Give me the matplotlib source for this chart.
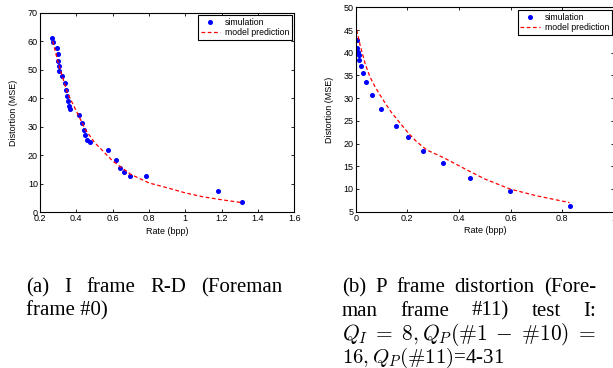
import matplotlib
matplotlib.use('Agg')
import matplotlib.pyplot as plt

# (a) I frame R-D, Foreman frame #0
i_rate_sim = [0.268, 0.272, 0.292, 0.299, 0.301, 0.303, 0.306, 0.323, 0.339, 0.345,
              0.350, 0.354, 0.360, 0.365, 0.417, 0.433, 0.442, 0.448, 0.459, 0.473,
              0.574, 0.618, 0.642, 0.664, 0.695, 0.783, 1.182, 1.312]
i_dist_sim = [61.2, 59.7, 57.5, 55.5, 53.1, 51.4, 49.4, 47.8, 45.2, 42.8,
              40.7, 39.1, 37.3, 36.1, 34.0, 31.2, 28.7, 27.0, 25.4, 24.5,
              21.7, 18.5, 15.4, 14.1, 12.9, 12.6, 7.5, 3.6]
i_rate_model = [0.27, 0.30, 0.35, 0.40, 0.45, 0.50, 0.60, 0.70, 0.80, 0.90, 1.00, 1.10, 1.20, 1.31]
i_dist_model = [60.0, 52.5, 42.0, 35.5, 29.0, 24.5, 18.0, 13.3, 10.3, 8.6, 6.8, 5.4, 4.4, 3.4]

# (b) P frame distortion, Foreman frame #11
p_rate_sim = [0.004, 0.006, 0.009, 0.012, 0.014, 0.019, 0.027, 0.039, 0.063, 0.097,
              0.155, 0.201, 0.261, 0.339, 0.444, 0.597, 0.828]
p_dist_sim = [42.7, 41.1, 40.1, 39.4, 38.3, 37.1, 35.5, 33.6, 30.8, 27.7,
              23.8, 21.4, 18.4, 15.8, 12.5, 9.6, 6.2]
p_rate_model = [0.004, 0.017, 0.036, 0.055, 0.075, 0.094, 0.113, 0.139, 0.172, 0.204,
                0.236, 0.275, 0.340, 0.444, 0.500, 0.597, 0.700, 0.828]
p_dist_model = [45.0, 41.7, 37.7, 34.7, 32.5, 30.7, 29.0, 26.8, 24.5, 22.3,
                20.4, 18.6, 16.9, 13.8, 12.2, 10.0, 8.5, 7.0]

W, H = 613, 368
plt.rcParams['font.family'] = ['Liberation Sans', 'DejaVu Sans']
plt.rcParams['mathtext.fontset'] = 'cm'

fig = plt.figure(figsize=(W / 100, H / 100), dpi=100)


def px_axes(l, t, r, b):
    return fig.add_axes([l / W, 1 - b / H, (r - l) / W, (b - t) / H])


def style(ax, xlim, xticks, xlabels, ylim, yticks, ypad):
    ax.set_xlim(xlim)
    ax.set_ylim(ylim)
    ax.set_xticks(xticks)
    ax.set_xticklabels(xlabels)
    ax.set_yticks(yticks)
    ax.tick_params(direction='in', top=True, right=True, length=2.5, width=0.6,
                   labelsize=6.5, pad=1.5)
    for s in ax.spines.values():
        s.set_linewidth(0.8)
    ax.set_xlabel('Rate (bpp)', fontsize=6.5, labelpad=2.5)
    ax.set_ylabel('Distortion (MSE)', fontsize=6.5, labelpad=ypad)


def draw(ax, rs, ds, rm, dm, anchor):
    ax.plot(rs, ds, 'o', color='blue', markersize=2.6, label='simulation')
    ax.plot(rm, dm, '--', color='red', linewidth=0.9, dashes=(3, 2), label='model prediction')
    leg = ax.legend(loc='upper right', bbox_to_anchor=anchor, fontsize=6.3,
                    fancybox=False, edgecolor='black', framealpha=1,
                    borderpad=0.3, handlelength=2.2, labelspacing=0.15,
                    handletextpad=0.6, borderaxespad=0, numpoints=1)
    leg.get_frame().set_linewidth(0.8)


ax1 = px_axes(40, 12.7, 294.3, 212.3)
draw(ax1, i_rate_sim, i_dist_sim, i_rate_model, i_dist_model, (0.991, 0.988))
style(ax1, (0.2, 1.6), [0.2, 0.4, 0.6, 0.8, 1.0, 1.2, 1.4, 1.6],
      ['0.2', '0.4', '0.6', '0.8', '1', '1.2', '1.4', '1.6'],
      (0, 70), range(0, 71, 10), 7)

ax2 = px_axes(355.7, 7.3, 614, 211.7)
draw(ax2, p_rate_sim, p_dist_sim, p_rate_model, p_dist_model, (0.992, 0.987))
style(ax2, (0, 1), [0, 0.2, 0.4, 0.6, 0.8, 1.0],
      ['0', '0.2', '0.4', '0.6', '0.8', '1'],
      (5, 50), range(5, 51, 5), 7)

# captions
cap = dict(fontsize=15, family=['Liberation Serif', 'DejaVu Serif'], va='baseline')
renderer = fig.canvas.get_renderer()


def justify(words, x0, x1, y):
    texts = [fig.text(0, 1 - y / H, w, **cap) for w in words]
    widths = [t.get_window_extent(renderer).width for t in texts]
    gap = (x1 - x0 - sum(widths)) / (len(words) - 1)
    x = x0
    for t, w in zip(texts, widths):
        t.set_x(x / W)
        x += w + gap


def left(text, x0, y, fit=None):
    t = fig.text(x0 / W, 1 - y / H, text, **cap)
    if fit:
        w = t.get_window_extent(renderer).width
        t.set_fontsize(cap['fontsize'] * (fit - x0) / w)
    return t


justify(['(a)', 'I', 'frame', 'R-D', '(Foreman'], 26, 282, 292)
left('frame #0)', 26, 315)

justify(['(b)', 'P', 'frame', 'distortion', '(Fore-'], 342, 596, 292)
justify(['man', 'frame', '#11)', 'test', 'I:'], 342, 596, 315.5)
left(r'$Q_I\;=\;8,Q_P(\#1\;-\;\#10)\;=$', 342, 339.5, fit=596)
left(r'$16,Q_P(\#11)$=4-31', 342, 363)

fig.savefig('out.png', dpi=100)
